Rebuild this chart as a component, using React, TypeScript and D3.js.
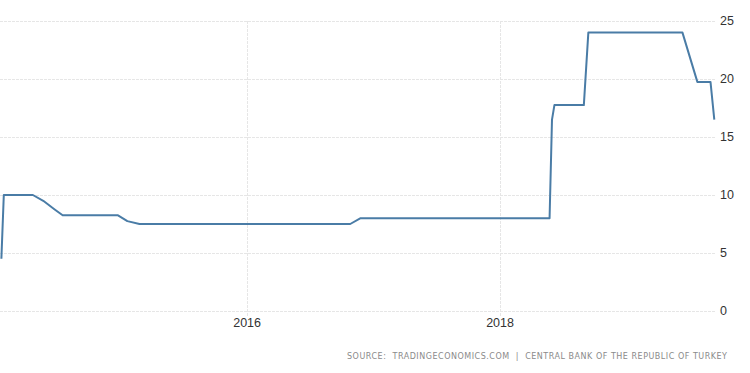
import React, { useEffect, useRef } from "react";
import * as d3 from "d3";

// Turkey policy rate, decision dates and values (%)
const dates = [
  "2014-01-21", "2014-01-28", "2014-04-22", "2014-05-22", "2014-06-24",
  "2014-07-17", "2014-12-24", "2015-01-20", "2015-02-24", "2016-10-25",
  "2016-11-24", "2018-05-24", "2018-05-31", "2018-06-07", "2018-08-31",
  "2018-09-13", "2019-06-12", "2019-07-25", "2019-09-01", "2019-09-12",
];
const values = [
  4.5, 10, 10, 9.5, 8.75,
  8.25, 8.25, 7.75, 7.5, 7.5,
  8, 8, 16.5, 17.75, 17.75,
  24, 24, 19.75, 19.75, 16.5,
];
const yTicks = [0, 5, 10, 15, 20, 25];
const xTicks = ["2016-01-01", "2018-01-01"];
const sourceText =
  "SOURCE:  TRADINGECONOMICS.COM  |  CENTRAL BANK OF THE REPUBLIC OF TURKEY";

export default function App() {
  const ref = useRef<SVGSVGElement>(null);
  const width = 750;
  const height = 373;
  const margin = { top: 21, right: 35, bottom: 62, left: 0 };

  useEffect(() => {
    const parse = d3.timeParse("%Y-%m-%d");
    const data = dates.map((d, i) => ({ date: parse(d) as Date, value: values[i] }));

    const svg = d3.select(ref.current);
    svg.selectAll("*").remove();

    const x = d3
      .scaleTime()
      .domain([parse("2014-01-17") as Date, parse("2019-09-14") as Date])
      .range([margin.left, width - margin.right]);
    const y = d3
      .scaleLinear()
      .domain([0, 25])
      .range([height - margin.bottom, margin.top]);

    // horizontal grid
    svg
      .append("g")
      .selectAll("line")
      .data(yTicks)
      .enter()
      .append("line")
      .attr("x1", margin.left)
      .attr("x2", width - margin.right)
      .attr("y1", (d) => y(d) + 0.5)
      .attr("y2", (d) => y(d) + 0.5)
      .attr("stroke", "#e6e6e6")
      .attr("stroke-dasharray", "3,1");

    // vertical grid
    svg
      .append("g")
      .selectAll("line")
      .data(xTicks)
      .enter()
      .append("line")
      .attr("x1", (d) => Math.round(x(parse(d) as Date)) + 0.5)
      .attr("x2", (d) => Math.round(x(parse(d) as Date)) + 0.5)
      .attr("y1", y(25))
      .attr("y2", y(0) + 5)
      .attr("stroke", "#e6e6e6")
      .attr("stroke-dasharray", "3,1");

    // y labels
    svg
      .append("g")
      .selectAll("text")
      .data(yTicks)
      .enter()
      .append("text")
      .attr("x", width - margin.right + 5)
      .attr("y", (d) => y(d))
      .attr("dy", "0.35em")
      .attr("font-family", "Liberation Sans, Arial, sans-serif")
      .attr("font-size", 12.5)
      .attr("fill", "#333")
      .text((d) => d);

    // x labels
    svg
      .append("g")
      .selectAll("text")
      .data(xTicks)
      .enter()
      .append("text")
      .attr("x", (d) => x(parse(d) as Date))
      .attr("y", y(0) + 16)
      .attr("text-anchor", "middle")
      .attr("font-family", "Liberation Sans, Arial, sans-serif")
      .attr("font-size", 12.5)
      .attr("fill", "#333")
      .text((d) => d.slice(0, 4));

    // line
    const line = d3
      .line<{ date: Date; value: number }>()
      .x((d) => x(d.date))
      .y((d) => y(d.value));
    svg
      .append("path")
      .datum(data)
      .attr("d", line)
      .attr("fill", "none")
      .attr("stroke", "#4a7ca6")
      .attr("stroke-width", 2)
      .attr("stroke-linejoin", "round");

    // source
    svg
      .append("text")
      .attr("x", 727)
      .attr("y", 359)
      .attr("text-anchor", "end")
      .attr("font-family", "DejaVu Sans, Verdana, sans-serif")
      .attr("font-size", 8)
      .attr("fill", "#8a8a8a")
      .attr("textLength", 380)
      .attr("lengthAdjust", "spacing")
      .attr("xml:space", "preserve")
      .style("white-space", "pre")
      .text(sourceText);
  });

  return (
    <svg
      ref={ref}
      width={width}
      height={height}
      style={{ position: "absolute", left: 0, top: 0, background: "#fff" }}
    />
  );
}
